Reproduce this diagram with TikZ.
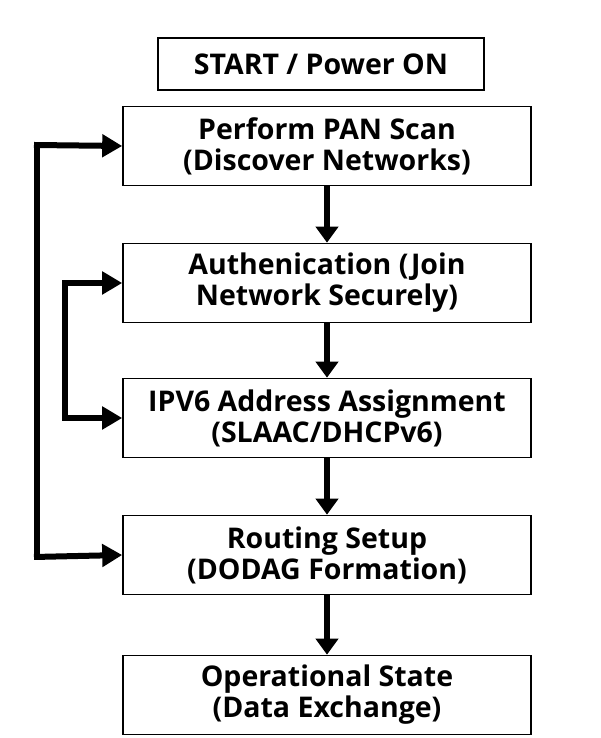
\documentclass[tikz,border=0pt]{standalone}
\usepackage{fontspec}
\setmainfont{Open Sans}
\usetikzlibrary{arrows.meta}
\tikzset{
  stepbox/.style={draw,line width=1.6pt,minimum width=408pt,minimum height=79pt,align=center,font=\fontsize{28.5}{31}\selectfont\bfseries,inner sep=2pt},
  flow/.style={line width=6pt,-{Triangle[width=22pt,length=16pt]}},
  loop/.style={line width=6pt,-{Triangle[width=22pt,length=20pt]}}
}
\begin{document}
\begin{tikzpicture}[x=1pt,y=1pt]
  \useasboundingbox (0,0) rectangle (601,738);
  \node[stepbox,minimum width=326pt,minimum height=52pt] (start) at (321,674) {START / Power ON};
  \node[stepbox] (scan) at (327,592) {Perform PAN Scan\\(Discover Networks)};
  \node[stepbox] (auth) at (327,455) {Authenication (Join\\Network Securely)};
  \node[stepbox] (ipv6) at (327,320) {IPV6 Address Assignment\\(SLAAC/DHCPv6)};
  \node[stepbox] (route) at (327,183) {Routing Setup\\(DODAG Formation)};
  \node[stepbox] (oper) at (327,43) {Operational State\\(Data Exchange)};
  % down arrows
  \draw[flow] (scan.south) -- (auth.north);
  \draw[flow] (auth.south) -- (ipv6.north);
  \draw[flow] (ipv6.south) -- (route.north);
  \draw[flow] (route.south) -- (oper.north);
  % feedback loops
  \coordinate (o1) at (37,593);
  \coordinate (o2) at (37,181);
  \coordinate (i1) at (65,455);
  \coordinate (i2) at (65,320);
  \draw[line width=6pt] (o1) -- (o2);
  \draw[loop] ([xshift=-3pt]o1) -- (scan.west);
  \draw[loop] ([xshift=-3pt]o2) -- (route.west);
  \draw[line width=6pt] (i1) -- (i2);
  \draw[loop] ([xshift=-3pt]i1) -- (auth.west);
  \draw[loop] ([xshift=-3pt]i2) -- (ipv6.west);
\end{tikzpicture}
\end{document}
